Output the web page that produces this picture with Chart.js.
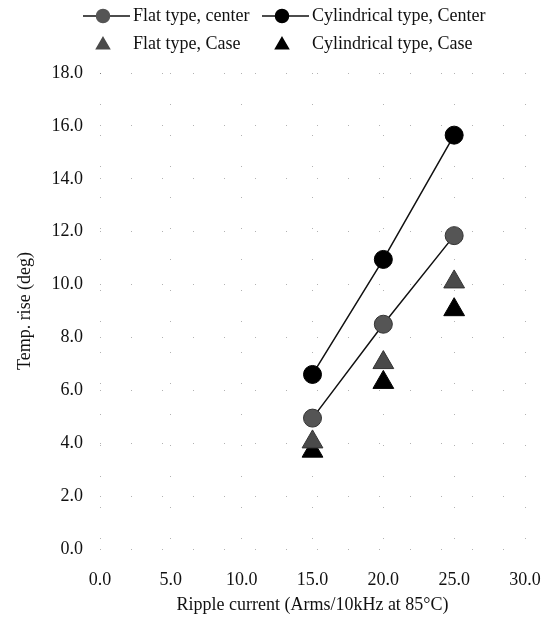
<!DOCTYPE html>
<html>
<head>
<meta charset="utf-8">
<script src="https://cdn.jsdelivr.net/npm/chart.js@4.4.0/dist/chart.umd.min.js"></script>
<style>
  html, body { margin: 0; padding: 0; background: #fff; }
  #wrap { width: 552px; height: 617px; }
</style>
</head>
<body>
<div id="wrap"><canvas id="tempChart"></canvas></div>
<script>
// values
const rippleCurrent = [15, 20, 25];
const flatCenter = [4.95, 8.5, 11.85];
const cylCenter = [6.6, 10.95, 15.65];
const flatCase = [4.05, 7.05, 10.1];
const cylCase = [3.7, 6.3, 9.05];
const xTickValues = [0, 5, 10, 15, 20, 25, 30];
const yTickValues = [0, 2, 4, 6, 8, 10, 12, 14, 16, 18];

const FONT = '"Liberation Serif", "DejaVu Serif", serif';
const legendCols = [83, 262];
const legendRows = [16, 44];

function toPoints(ys) {
  return rippleCurrent.map((x, i) => ({ x: x, y: ys[i] }));
}

// 2 x 2 legend like the original figure
const gridLegend = {
  id: 'gridLegend',
  afterDraw(chart) {
    const ctx = chart.ctx;
    ctx.save();
    ctx.font = '18px ' + FONT;
    ctx.textBaseline = 'middle';
    ctx.textAlign = 'left';
    chart.data.datasets.forEach((ds, i) => {
      const x0 = legendCols[i % 2];
      const y = legendRows[Math.floor(i / 2)];
      if (ds.showLine) {
        ctx.strokeStyle = ds.borderColor;
        ctx.lineWidth = 1.5;
        ctx.beginPath();
        ctx.moveTo(x0, y);
        ctx.lineTo(x0 + 47, y);
        ctx.stroke();
      }
      ctx.fillStyle = ds.pointBackgroundColor;
      ctx.strokeStyle = ds.pointBackgroundColor;
      Chart.helpers.drawPoint(ctx, {
        pointStyle: ds.pointStyle,
        radius: ds.pointStyle === 'triangle' ? 7.5 : 6.5,
        rotation: 0,
        borderWidth: 1
      }, x0 + 20, y + (ds.pointStyle === 'triangle' ? 1 : 0));
      ctx.fillStyle = '#111';
      ctx.fillText(ds.label, x0 + 50, y);
    });
    ctx.restore();
  }
};

const ctx = document.getElementById('tempChart');
new Chart(ctx, {
  type: 'scatter',
  data: {
    datasets: [{
      label: 'Flat type, center',
      data: toPoints(flatCenter),
      showLine: true,
      borderColor: '#111',
      borderWidth: 1.5,
      pointStyle: 'circle',
      pointRadius: 9,
      pointBackgroundColor: '#555',
      pointBorderColor: '#333',
      pointBorderWidth: 1
    }, {
      label: 'Cylindrical type, Center',
      data: toPoints(cylCenter),
      showLine: true,
      borderColor: '#111',
      borderWidth: 1.5,
      pointStyle: 'circle',
      pointRadius: 9,
      pointBackgroundColor: '#000',
      pointBorderColor: '#000',
      pointBorderWidth: 1
    }, {
      label: 'Flat type, Case',
      data: toPoints(flatCase),
      showLine: false,
      borderColor: '#444',
      pointStyle: 'triangle',
      pointRadius: 12,
      pointBackgroundColor: '#4a4a4a',
      pointBorderColor: '#333',
      pointBorderWidth: 1
    }, {
      label: 'Cylindrical type, Case',
      data: toPoints(cylCase),
      showLine: false,
      borderColor: '#000',
      pointStyle: 'triangle',
      pointRadius: 12,
      pointBackgroundColor: '#000',
      pointBorderColor: '#000',
      pointBorderWidth: 1
    }]
  },
  options: {
    responsive: true,
    maintainAspectRatio: false,
    animation: false,
    layout: {
      padding: { top: 73, right: 27, bottom: 0, left: 0 }
    },
    plugins: {
      legend: { display: false },
      tooltip: { enabled: false }
    },
    scales: {
      x: {
        type: 'linear',
        min: 0,
        max: 30,
        afterBuildTicks: (scale) => { scale.ticks = xTickValues.map(v => ({ value: v })); },
        afterFit: (scale) => {
          scale.height = 68;
          scale.paddingLeft = 0;
          scale.paddingRight = 0;
        },
        border: { display: false, dash: [1, 30] },
        grid: { color: 'rgba(0,0,0,0.3)', drawTicks: false },
        ticks: {
          padding: 20,
          color: '#111',
          font: { family: FONT, size: 18 },
          callback: (v) => Number(v).toFixed(1)
        },
        title: {
          display: true,
          text: 'Ripple current (Arms/10kHz at 85°C)',
          color: '#111',
          font: { family: FONT, size: 18 },
          padding: { top: 0, bottom: 1 }
        }
      },
      y: {
        type: 'linear',
        min: 0,
        max: 18,
        afterBuildTicks: (scale) => { scale.ticks = yTickValues.map(v => ({ value: v })); },
        afterFit: (scale) => { scale.width = 100; },
        border: { display: false, dash: [1, 30] },
        grid: { color: 'rgba(0,0,0,0.3)', drawTicks: false },
        ticks: {
          padding: 17,
          color: '#111',
          font: { family: FONT, size: 18 },
          callback: (v) => Number(v).toFixed(1)
        },
        title: {
          display: true,
          text: 'Temp. rise (deg)',
          color: '#111',
          font: { family: FONT, size: 18 },
          padding: { top: 14, bottom: 0 }
        }
      }
    }
  },
  plugins: [gridLegend]
});
</script>
</body>
</html>
